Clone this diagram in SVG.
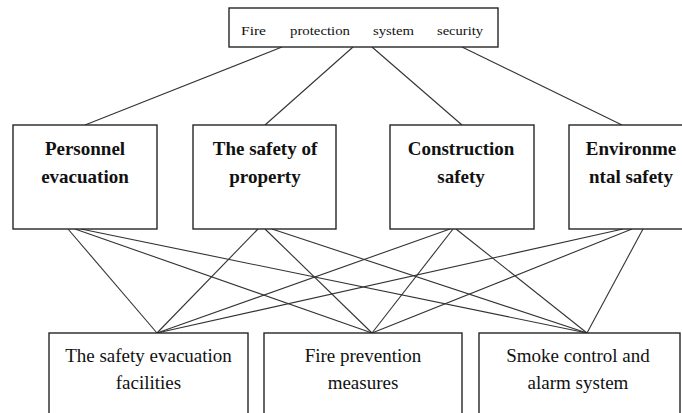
<svg xmlns="http://www.w3.org/2000/svg" width="682" height="413" viewBox="0 0 682 413">
  <style>
    .box { fill: #ffffff; stroke: #262626; stroke-width: 1.4; }
    .link { stroke: #333333; stroke-width: 1.1; fill: none; }
    .title { font-family: "Liberation Serif", "Times New Roman", serif; font-size: 13px; fill: #111111; }
    .mid { font-family: "Liberation Serif", "Times New Roman", serif; font-size: 19px; font-weight: bold; fill: #111111; text-anchor: middle; }
    .low { font-family: "Liberation Serif", "Times New Roman", serif; font-size: 19px; fill: #111111; text-anchor: middle; }
  </style>
  <rect width="682" height="413" fill="#ffffff"/>

  <!-- connectors -->
  <g id="connectors" class="link">
    <!-- top level to criteria -->
    <line x1="282" y1="47" x2="85" y2="125"/>
    <line x1="353" y1="47" x2="265" y2="125"/>
    <line x1="372" y1="47" x2="462" y2="125"/>
    <line x1="462" y1="47" x2="622" y2="125"/>
    <!-- criteria to measures -->
    <line x1="68" y1="229" x2="157" y2="333"/>
    <line x1="75" y1="229" x2="372" y2="333"/>
    <line x1="81" y1="229" x2="587" y2="333"/>
    <line x1="258" y1="229" x2="157" y2="333"/>
    <line x1="265" y1="229" x2="372" y2="333"/>
    <line x1="272" y1="229" x2="587" y2="333"/>
    <line x1="450" y1="229" x2="157" y2="333"/>
    <line x1="453" y1="229" x2="372" y2="333"/>
    <line x1="456" y1="229" x2="587" y2="333"/>
    <line x1="623" y1="229" x2="157" y2="333"/>
    <line x1="632" y1="229" x2="372" y2="333"/>
    <line x1="643" y1="229" x2="587" y2="333"/>
  </g>

  <g id="goal">
    <rect class="box" x="229" y="8" width="269" height="39"/>
    <text class="title" x="241" y="35" textLength="25" lengthAdjust="spacingAndGlyphs">Fire</text>
    <text class="title" x="290" y="35" textLength="60" lengthAdjust="spacingAndGlyphs">protection</text>
    <text class="title" x="373" y="35" textLength="41" lengthAdjust="spacingAndGlyphs">system</text>
    <text class="title" x="437" y="35" textLength="46" lengthAdjust="spacingAndGlyphs">security</text>
  </g>

  <g id="personnel-evacuation">
    <rect class="box" x="13" y="125" width="144" height="104"/>
    <text class="mid" x="85" y="155">Personnel</text>
    <text class="mid" x="85" y="183">evacuation</text>
  </g>

  <g id="property-safety">
    <rect class="box" x="193" y="125" width="143" height="104"/>
    <text class="mid" x="265" y="155">The safety of</text>
    <text class="mid" x="265" y="183">property</text>
  </g>

  <g id="construction-safety">
    <rect class="box" x="390" y="125" width="144" height="104"/>
    <text class="mid" x="461" y="155">Construction</text>
    <text class="mid" x="461" y="183">safety</text>
  </g>

  <g id="environmental-safety">
    <rect class="box" x="569" y="125" width="150" height="104"/>
    <text class="mid" x="631" y="155">Environme</text>
    <text class="mid" x="631" y="183">ntal safety</text>
  </g>

  <g id="evacuation-facilities">
    <rect class="box" x="49" y="333" width="199" height="100"/>
    <text class="low" x="148.5" y="362">The safety evacuation</text>
    <text class="low" x="148.5" y="389">facilities</text>
  </g>

  <g id="fire-prevention">
    <rect class="box" x="264" y="333" width="198" height="100"/>
    <text class="low" x="363" y="362">Fire prevention</text>
    <text class="low" x="363" y="389">measures</text>
  </g>

  <g id="smoke-control">
    <rect class="box" x="479" y="333" width="201" height="100"/>
    <text class="low" x="578" y="362">Smoke control and</text>
    <text class="low" x="578" y="389">alarm system</text>
  </g>
</svg>
